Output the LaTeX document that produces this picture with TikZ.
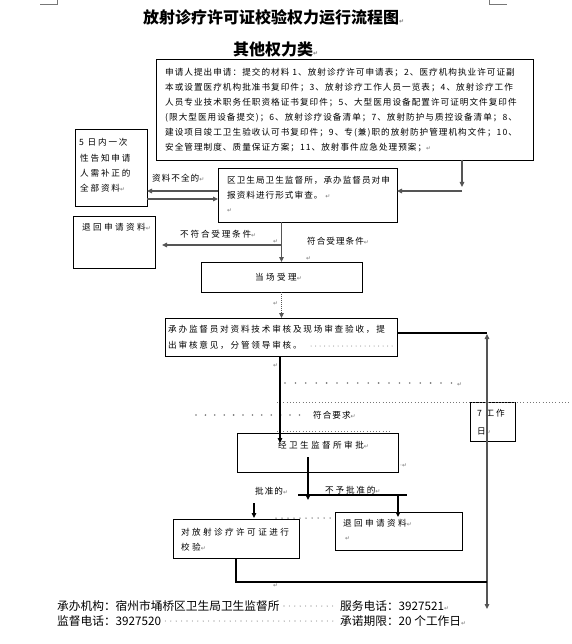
\documentclass[tikz,border=0pt]{standalone}
\usepackage{fontspec}
\setmainfont{Noto Sans CJK SC}
\newfontfamily\cjk{Noto Sans CJK SC}
\newfontfamily\fa[LetterSpace=12]{Noto Sans CJK SC}
\newfontfamily\fb[LetterSpace=21]{Noto Sans CJK SC}
\newfontfamily\fc[LetterSpace=28]{Noto Sans CJK SC}
\newfontfamily\dv{DejaVu Sans}
\usetikzlibrary{arrows.meta}
\definecolor{pm}{HTML}{777777}
\definecolor{ln}{HTML}{555555}
\newcommand\pmk{{\dv\fontsize{6}{6}\selectfont\textcolor{pm}{↵}}}
\begin{document}
\begin{tikzpicture}[x=1pt,y=-1pt,
  box/.style={draw=black, line width=0.9pt, inner sep=0pt, outer sep=0pt, anchor=north west},
  ta/.style={anchor=base west, inner sep=0pt, font=\fa\fontsize{8.6}{10}\selectfont},
  tb/.style={anchor=base west, inner sep=0pt, font=\fb\fontsize{8.6}{10}\selectfont},
  tc/.style={anchor=base west, inner sep=0pt, font=\fc\fontsize{8.6}{10}\selectfont},
  tl/.style={anchor=base west, inner sep=0pt, font=\cjk\fontsize{11.7}{12}\selectfont},
  pmn/.style={anchor=base west, inner sep=0pt, font=\dv\fontsize{6}{6}\selectfont, text=pm},
  arr/.style={-{Triangle[length=5pt,width=4.5pt]}, line width=1.1pt},
  cn/.style={line width=1.1pt},
  bigdots/.style={pm, line width=1.8pt, line cap=round},
  finedots/.style={pm, line width=0.8pt, dash pattern=on 1pt off 2.2pt},
  leader/.style={pm, line width=1.1pt, line cap=round, dash pattern=on 0pt off 5.4pt}]
\useasboundingbox[fill=white] (0,0) rectangle (571,644);

% corner marks
\draw[pm, line width=0.8pt] (40,4) -- (57,4) -- (57,0);
\draw[pm, line width=0.8pt] (489,0) -- (489,4) -- (507,4);

% titles
\node[anchor=base west, inner sep=0pt, font=\cjk\bfseries\fontsize{16}{16}\selectfont] (title) at (143,24) {放射诊疗许可证校验权力运行流程图\pmk};
\node[anchor=base west, inner sep=0pt, font=\cjk\bfseries\fontsize{16}{16}\selectfont] (subtitle) at (233,56) {其他权力类\pmk};

% big box
\node[box, minimum width=377pt, minimum height=101pt] (big) at (156,59) {};
\node[ta] (b1) at (165,75.3) {申请人提出申请：提交的材料 1、放射诊疗许可申请表；2、医疗机构执业许可证副};
\node[ta] (b2) at (165,90.3) {本或设置医疗机构批准书复印件；3、放射诊疗工作人员一览表；4、放射诊疗工作};
\node[ta] (b3) at (165,105.3) {人员专业技术职务任职资格证书复印件；5、大型医用设备配置许可证明文件复印件};
\node[ta] (b4) at (165,120.3) {(限大型医用设备提交)；6、放射诊疗设备清单；7、放射防护与质控设备清单；8、};
\node[ta] (b5) at (165,135.3) {建设项目竣工卫生验收认可书复印件；9、专(兼)职的放射防护管理机构文件；10、};
\node[ta] (b6) at (165,150.3) {安全管理制度、质量保证方案；11、放射事件应急处理预案；\pmk};

% 5-day box
\node[box, minimum width=72pt, minimum height=77pt] (five) at (75,129) {};
\node[tb] (f1) at (79,145.3) {5 日内一次};
\node[tb] (f2) at (80,161.3) {性告知申请};
\node[tb] (f3) at (80,176.3) {人需补正的};
\node[tb] (f4) at (80,191.3) {全部资料\pmk};

% district box
\node[box, minimum width=179pt, minimum height=54pt] (qu) at (218,168) {};
\node[ta] (q1) at (227,183.3) {区卫生局卫生监督所，承办监督员对申};
\node[ta] (q2) at (227,198.3) {报资料进行形式审查。 \pmk};
\node[pmn] (q3) at (227,212) {↵};

\node[ta] (lbl1) at (152,181.3) {资料不全的\pmk};
\coordinate (cr) at (462,160);
\draw[arr, ln] (big.south -| cr) -- (462,187);
\draw[arr, ln] (462,191) -- (qu.east |- 0,191);
\draw[arr, ln] (qu.west |- 0,191) -- (five.east |- 0,191);
\draw[arr, ln] (five.east |- 0,199) -- (qu.west |- 0,199);

% return box left
\node[box, minimum width=82pt, minimum height=52pt] (th1) at (73,216) {};
\node[tc] (th1t) at (82,230.3) {退回申请资料\pmk};

% on-site acceptance box
\node[box, minimum width=161pt, minimum height=30pt] (dc) at (201,262) {};
\node[tc] (dct) at (255,280.3) {当场受理\pmk};

\node[tb] (lbl2) at (180,237.3) {不符合受理条件\pmk};
\node[ta] (lbl3) at (307,244.3) {符合受理条件\pmk};
\node[pmn] (pm1) at (273,243) {↵};
\node[pmn] (pm2) at (306,260) {↵};
\coordinate (e1) at (162,245);
\draw[arr, ln] (qu.south -| dc.north) -- (dc.north);
\draw[arr, ln] (dc.north |- 0,245) -- (e1);

% review box
\node[box, minimum width=232pt, minimum height=38pt] (cb) at (165,318) {};
\node[tb] (c1) at (168,332.3) {承办监督员对资料技术审核及现场审查验收，提};
\node[tb] (c2) at (168,348.3) {出审核意见，分管领导审核。};
\draw[pm, line width=1pt, line cap=round, dash pattern=on 0pt off 4.5pt] (311,346) -- (395,346);
\node[pmn] (pm3) at (273,305) {↵};
\draw[arr, ln, dash pattern=on 1pt off 1pt] (dc.south) -- (dc.south |- cb.north);

% 7 working days box
\node[box, minimum width=45pt, minimum height=39pt] (seven) at (470,402) {};
\node[tb] (s1) at (477,416.3) {7 工作};
\node[tb] (s2) at (477,434.3) {日\pmk};

% dotted rows
\draw[bigdots, dash pattern=on 0pt off 10.4pt] (285,383) -- (455,383);
\node[pmn] (pm4) at (457,386) {↵};
\draw[finedots] (277,402) -- (571,402);
\draw[bigdots, dash pattern=on 0pt off 9.4pt] (196,415) -- (308,415);
\node[ta] (lbl4) at (313,418.3) {符合要求\pmk};
\draw[finedots] (277,431) -- (390,431);
\node[pmn] (pm5) at (273,367) {↵};

% approval box
\node[box, minimum width=161pt, minimum height=39pt] (sp) at (237,433) {};
\node[tc] (spt) at (278,448.3) {经卫生监督所审批\pmk};
\node[pmn] (pm6) at (400,467) {·↵};
\draw[arr, black] (cb.south -| 280,0) -- (280,443);

% right loop
\draw[cn, black] (cb.east |- 0,333) -- (487,333);
\draw[arr, ln] (487,582) -- (487,334);
\draw[arr, ln] (487,582) -- (487,609);

% branches
\draw[arr, black] (308,457) -- (308,500);
\draw[cn, black] (298,495) -- (407,495);
\node[ta] (lbl5) at (255,494.3) {批准的\pmk};
\node[tb] (lbl6) at (325,493.3) {不予批准的\pmk};

% final boxes
\node[box, minimum width=126pt, minimum height=39pt] (dui) at (173,519) {};
\node[tc] (d1) at (181,535.3) {对放射诊疗许可证进行};
\node[tc] (d2) at (181,550.3) {校验\pmk};
\node[box, minimum width=127pt, minimum height=38pt] (th2) at (335,512) {};
\node[tc] (th2t) at (343,526.3) {退回申请资料\pmk};
\node[pmn] (pm7) at (345,540) {↵};
\draw[arr, black] (254,503) -- (254,518);
\draw[arr, black] (398,495) -- (398,517);
\draw[pm, line width=1.5pt, line cap=round, dash pattern=on 0pt off 6pt] (276,518) -- (333,518);

\draw[cn, black] (dui.south) -- (dui.south |- 0,582) -- (487,582);
\node[pmn] (pm8) at (273,587) {↵};

% footer
\node[tl] (ft1) at (57,610.5) {承办机构：宿州市埇桥区卫生局卫生监督所};
\draw[leader] (284,606) -- (337,606);
\node[tl] (ft2) at (340,610.5) {服务电话：3927521\pmk};
\node[tl] (ft3) at (57,625.5) {监督电话：3927520};
\draw[leader] (160,621) -- (337,621);
\node[tl] (ft4) at (340,625.5) {承诺期限：20 个工作日\pmk};
\end{tikzpicture}
\end{document}
